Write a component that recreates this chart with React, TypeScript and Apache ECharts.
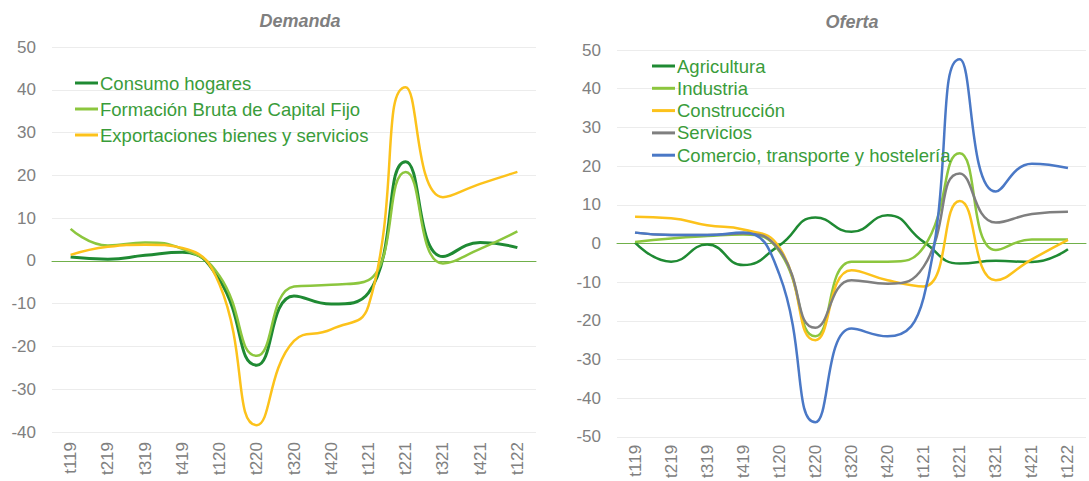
import React, { useEffect, useRef } from "react";
import * as echarts from "echarts";

const categories = ["t119", "t219", "t319", "t419", "t120", "t220", "t320", "t420", "t121", "t221", "t321", "t421", "t122"];

// Demanda
const consumoHogares = [0.9, 0.4, 1.3, 2.0, -4.5, -24.4, -8.2, -10.1, -7.5, 23.2, 1.0, 4.3, 3.1];
const formacionBruta = [7.5, 3.6, 4.3, 2.8, -3.5, -22.2, -6.0, -5.6, -4.5, 20.8, -0.6, 2.8, 6.9];
const exportaciones = [1.4, 3.3, 3.8, 3.0, -5.5, -38.4, -18.7, -16.0, -10.5, 40.6, 14.9, 18.0, 20.8];

// Oferta
const agricultura = [0.2, -4.7, -0.3, -5.6, -0.5, 6.7, 3.0, 7.3, 0.4, -5.2, -4.5, -4.8, -1.5];
const industria = [0.4, 1.3, 1.9, 2.3, -2.0, -24.0, -4.7, -4.7, -1.0, 23.3, -1.7, 1.0, 1.0];
const construccion = [6.9, 6.5, 4.7, 3.6, -1.0, -25.0, -6.9, -9.5, -11.1, 11.0, -9.5, -4.1, 0.9];
const servicios = [2.8, 2.2, 2.2, 2.6, -1.7, -21.8, -9.5, -10.4, -6.0, 18.1, 5.4, 7.6, 8.2];
const comercio = [2.8, 2.2, 2.2, 2.8, -8.0, -46.2, -22.0, -24.0, -14.0, 47.6, 13.4, 20.6, 19.5];

const FONT = "'Liberation Sans', Arial, sans-serif";
const C_DARK = "#1f8a33";
const C_LIGHT = "#8cc63e";
const C_YELLOW = "#fcc21b";
const C_GRAY = "#7f7f7f";
const C_BLUE = "#4a78c6";
const C_ZERO = "#70b04a";
const LEGEND_TEXT = "#3a9c3a";

export default function App() {
  const ref = useRef<HTMLDivElement>(null);

  useEffect(() => {
    if (!ref.current) return;
    const chart = echarts.init(ref.current, undefined, { renderer: "svg" });

    const xAxisCommon = (gridIndex: number, margin: number) => ({
      type: "category",
      gridIndex,
      data: categories,
      boundaryGap: true,
      axisLine: { show: false, onZero: false },
      axisTick: { show: false },
      axisLabel: {
        rotate: 90,
        margin,
        color: "#808080",
        fontSize: 17,
        fontFamily: FONT,
        interval: 0,
      },
      splitLine: { show: false },
    });

    // Axes that only draw the green line at zero
    const zeroAxis = (gridIndex: number) => ({
      type: "category",
      gridIndex,
      data: categories,
      boundaryGap: true,
      position: "bottom",
      axisLine: { show: true, onZero: true, lineStyle: { color: C_ZERO, width: 1 } },
      axisTick: { show: false },
      axisLabel: { show: false },
      splitLine: { show: false },
      z: 1,
    });

    const yAxisCommon = (gridIndex: number, min: number, max: number) => ({
      type: "value",
      gridIndex,
      min,
      max,
      interval: 10,
      axisLine: { show: false },
      axisTick: { show: false },
      axisLabel: { color: "#808080", fontSize: 17, fontFamily: FONT, margin: 16 },
      splitLine: { lineStyle: { color: "#ececec", width: 1 } },
    });

    const line = (name: string, data: number[], color: string, xi: number, extra: any = {}) => ({
      name,
      type: "line",
      xAxisIndex: xi,
      yAxisIndex: xi,
      data,
      smooth: 0.5,
      symbol: "none",
      lineStyle: { color, width: 2.5 },
      itemStyle: { color },
      z: 3,
      ...extra,
    });

    const legendCommon = {
      orient: "vertical",
      padding: 0,
      icon: "rect",
      itemWidth: 23,
      itemHeight: 3,
      textStyle: { color: LEGEND_TEXT, fontSize: 18.5, fontFamily: FONT, lineHeight: 20, padding: [0, 0, 0, -3] },
    };

    chart.setOption({
      animation: false,
      backgroundColor: "#ffffff",
      grid: [
        { left: 52, width: 484, top: 47, height: 385 },
        { left: 617, width: 469, top: 50, height: 387 },
      ],
      xAxis: [xAxisCommon(0, 10), xAxisCommon(1, 8), zeroAxis(0), zeroAxis(1)],
      yAxis: [yAxisCommon(0, -40, 50), yAxisCommon(1, -50, 50)],
      legend: [
        {
          ...legendCommon,
          left: 75,
          top: 73,
          itemGap: 6,
          data: ["Consumo hogares", "Formación Bruta de Capital Fijo", "Exportaciones bienes y servicios"],
        },
        {
          ...legendCommon,
          left: 652,
          top: 56,
          itemGap: 2.3,
          data: ["Agricultura", "Industria", "Construcción", "Servicios", "Comercio, transporte y hostelería"],
        },
      ],
      graphic: [
        {
          type: "text",
          x: 300,
          y: 21,
          style: {
            text: "Demanda",
            align: "center",
            verticalAlign: "middle",
            fontSize: 18,
            fontWeight: "bold",
            fontStyle: "italic",
            fontFamily: FONT,
            fill: "#7f7f7f",
          },
        },
        {
          type: "text",
          x: 852,
          y: 22,
          style: {
            text: "Oferta",
            align: "center",
            verticalAlign: "middle",
            fontSize: 18,
            fontWeight: "bold",
            fontStyle: "italic",
            fontFamily: FONT,
            fill: "#7f7f7f",
          },
        },
      ],
      series: [
        line("Consumo hogares", consumoHogares, C_DARK, 0, { lineStyle: { color: C_DARK, width: 3 } }),
        line("Formación Bruta de Capital Fijo", formacionBruta, C_LIGHT, 0),
        line("Exportaciones bienes y servicios", exportaciones, C_YELLOW, 0),
        line("Agricultura", agricultura, C_DARK, 1),
        line("Industria", industria, C_LIGHT, 1),
        line("Construcción", construccion, C_YELLOW, 1),
        line("Servicios", servicios, C_GRAY, 1),
        line("Comercio, transporte y hostelería", comercio, C_BLUE, 1),
      ],
    });

    return () => chart.dispose();
  }, []);

  return (
    <div
      ref={ref}
      style={{ position: "fixed", left: 0, top: 0, width: 1089, height: 481, background: "#fff" }}
    />
  );
}
